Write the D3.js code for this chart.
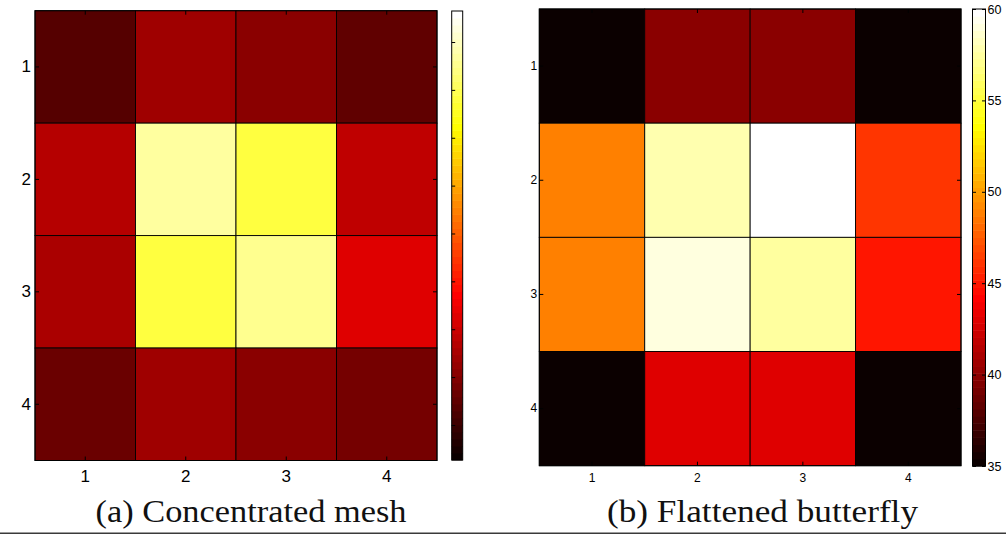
<!DOCTYPE html>
<html>
<head>
<meta charset="utf-8">
<script src="https://cdn.jsdelivr.net/npm/d3@7"></script>
<style>
  html, body { margin: 0; padding: 0; background: #fff; }
  svg { display: block; }
  .tick text { font-family: "Liberation Sans", Arial, sans-serif; fill: #000; }
  .caption { font-family: "Liberation Serif", "DejaVu Serif", serif; fill: #111; }
</style>
</head>
<body>
<svg id="fig" width="1006" height="534"></svg>
<script>
// Grid coordinates (row 1 at the top, column 1 at the left)
const rowLabels = ["1", "2", "3", "4"];
const colLabels = ["1", "2", "3", "4"];

// (a) Concentrated mesh: value per router, rows top to bottom
const meshValues = [
  [41.8, 47.0, 45.5, 42.6],
  [48.4, 78.4, 74.0, 49.2],
  [47.7, 74.0, 77.7, 51.4],
  [43.3, 47.0, 45.5, 44.0]
];
const meshRange = [36.34, 83.24];
const meshTicks = [40, 45, 50, 55, 60, 65, 70, 75, 80];

// (b) Flattened butterfly
const butterflyValues = [
  [35.0, 39.9, 39.9, 35.0],
  [48.9, 57.8, 60.0, 46.1],
  [48.9, 59.0, 57.5, 45.0],
  [35.0, 43.0, 43.0, 35.0]
];
const butterflyRange = [35, 60];
const butterflyTicks = [35, 40, 45, 50, 55, 60];

const captions = ["(a) Concentrated mesh", "(b) Flattened butterfly"];

// 64-step "hot" colormap: black -> red -> yellow -> white
const hot64 = d3.range(64).map(k => {
  const i = k + 1;
  const r = i <= 24 ? i / 24 : 1;
  const g = i <= 24 ? 0 : (i <= 48 ? (i - 24) / 24 : 1);
  const b = i <= 48 ? 0 : (i - 48) / 16;
  return d3.rgb(Math.round(r * 255), Math.round(g * 255), Math.round(b * 255)).formatHex();
});

const svg = d3.select("#fig");

const panels = [
  {
    values: meshValues, range: meshRange, ticks: meshTicks, caption: captions[0],
    box: { x0: 35, x1: 437, y0: 10.7, y1: 460.5 },
    bar: { x0: 451.7, x1: 462.7, y0: 11, y1: 460 },
    labelSize: 17, barLabels: false, captionX: 251, barRightTicks: false
  },
  {
    values: butterflyValues, range: butterflyRange, ticks: butterflyTicks, caption: captions[1],
    box: { x0: 539.3, x1: 961, y0: 9, y1: 465.7 },
    bar: { x0: 972.5, x1: 985.5, y0: 9, y1: 466 },
    labelSize: 12, barLabels: true, captionX: 762.5, barRightTicks: true
  }
];

panels.forEach(p => {
  const g = svg.append("g");
  const x = d3.scaleBand().domain(colLabels).range([p.box.x0, p.box.x1]);
  const y = d3.scaleBand().domain(rowLabels).range([p.box.y0, p.box.y1]);
  const color = d3.scaleQuantize().domain(p.range).range(hot64);

  const cells = [];
  p.values.forEach((row, ri) => row.forEach((v, ci) => cells.push({ r: rowLabels[ri], c: colLabels[ci], v })));

  g.append("g").selectAll("rect").data(cells).join("rect")
    .attr("x", d => x(d.c))
    .attr("y", d => y(d.r))
    .attr("width", x.bandwidth())
    .attr("height", y.bandwidth())
    .attr("fill", d => color(d.v))
    .attr("stroke", "#000")
    .attr("stroke-width", 0.9);

  // inward ticks on all four sides of the box
  const ax = g.append("g").attr("transform", `translate(0,${p.box.y1})`)
    .call(d3.axisBottom(x).tickSizeInner(-4).tickSizeOuter(0).tickPadding(p.labelSize > 14 ? 9 : 8));
  const ay = g.append("g").attr("transform", `translate(${p.box.x0},0)`)
    .call(d3.axisLeft(y).tickSizeInner(-4).tickSizeOuter(0).tickPadding(p.labelSize > 14 ? 4 : 2));
  const at = g.append("g").attr("transform", `translate(0,${p.box.y0})`)
    .call(d3.axisTop(x).tickSizeInner(-4).tickSizeOuter(0).tickFormat(""));
  const ar = g.append("g").attr("transform", `translate(${p.box.x1},0)`)
    .call(d3.axisRight(y).tickSizeInner(-4).tickSizeOuter(0).tickFormat(""));
  [ax, ay, at, ar].forEach(a => {
    a.select(".domain").remove();
    a.selectAll(".tick line").attr("stroke", "#000");
    a.selectAll(".tick text").style("font-size", p.labelSize + "px");
  });

  g.append("rect")
    .attr("x", p.box.x0).attr("y", p.box.y0)
    .attr("width", p.box.x1 - p.box.x0).attr("height", p.box.y1 - p.box.y0)
    .attr("fill", "none").attr("stroke", "#000").attr("stroke-width", 1);

  // colour bar
  const cb = d3.scaleLinear().domain(p.range).range([p.bar.y1, p.bar.y0]);
  const gb = g.append("g");
  gb.selectAll("rect").data(hot64).join("rect")
    .attr("x", p.bar.x0)
    .attr("width", p.bar.x1 - p.bar.x0)
    .attr("y", c => cb(color.invertExtent(c)[1]))
    .attr("height", c => cb(color.invertExtent(c)[0]) - cb(color.invertExtent(c)[1]) + 0.5)
    .attr("fill", c => c);

  const cbLeft = gb.append("g").attr("transform", `translate(${p.bar.x0},0)`)
    .call(d3.axisLeft(cb).tickValues(p.ticks).tickSizeInner(-3.5).tickSizeOuter(0).tickFormat(""));
  cbLeft.select(".domain").remove();
  cbLeft.selectAll(".tick line").attr("stroke", "#000");

  const cbRight = gb.append("g").attr("transform", `translate(${p.bar.x1},0)`)
    .call(d3.axisRight(cb).tickValues(p.ticks)
      .tickSizeInner(p.barRightTicks ? -3.5 : 0).tickSizeOuter(0).tickPadding(2)
      .tickFormat(p.barLabels ? d3.format("d") : ""));
  cbRight.select(".domain").remove();
  cbRight.selectAll(".tick line").attr("stroke", "#000");
  cbRight.selectAll(".tick text").style("font-size", "12.5px");

  gb.append("rect")
    .attr("x", p.bar.x0).attr("y", p.bar.y0)
    .attr("width", p.bar.x1 - p.bar.x0).attr("height", p.bar.y1 - p.bar.y0)
    .attr("fill", "none").attr("stroke", "#000").attr("stroke-width", 1);

  g.append("text").attr("class", "caption")
    .attr("x", p.captionX).attr("y", 522)
    .attr("text-anchor", "middle")
    .attr("textLength", 311)
    .attr("lengthAdjust", "spacingAndGlyphs")
    .style("font-size", "32px")
    .text(p.caption);
});

// rule under the figure
svg.append("line")
  .attr("x1", 0).attr("x2", 1006).attr("y1", 533.2).attr("y2", 533.2)
  .attr("stroke", "#3a3a3a").attr("stroke-width", 1.6);
</script>
</body>
</html>
